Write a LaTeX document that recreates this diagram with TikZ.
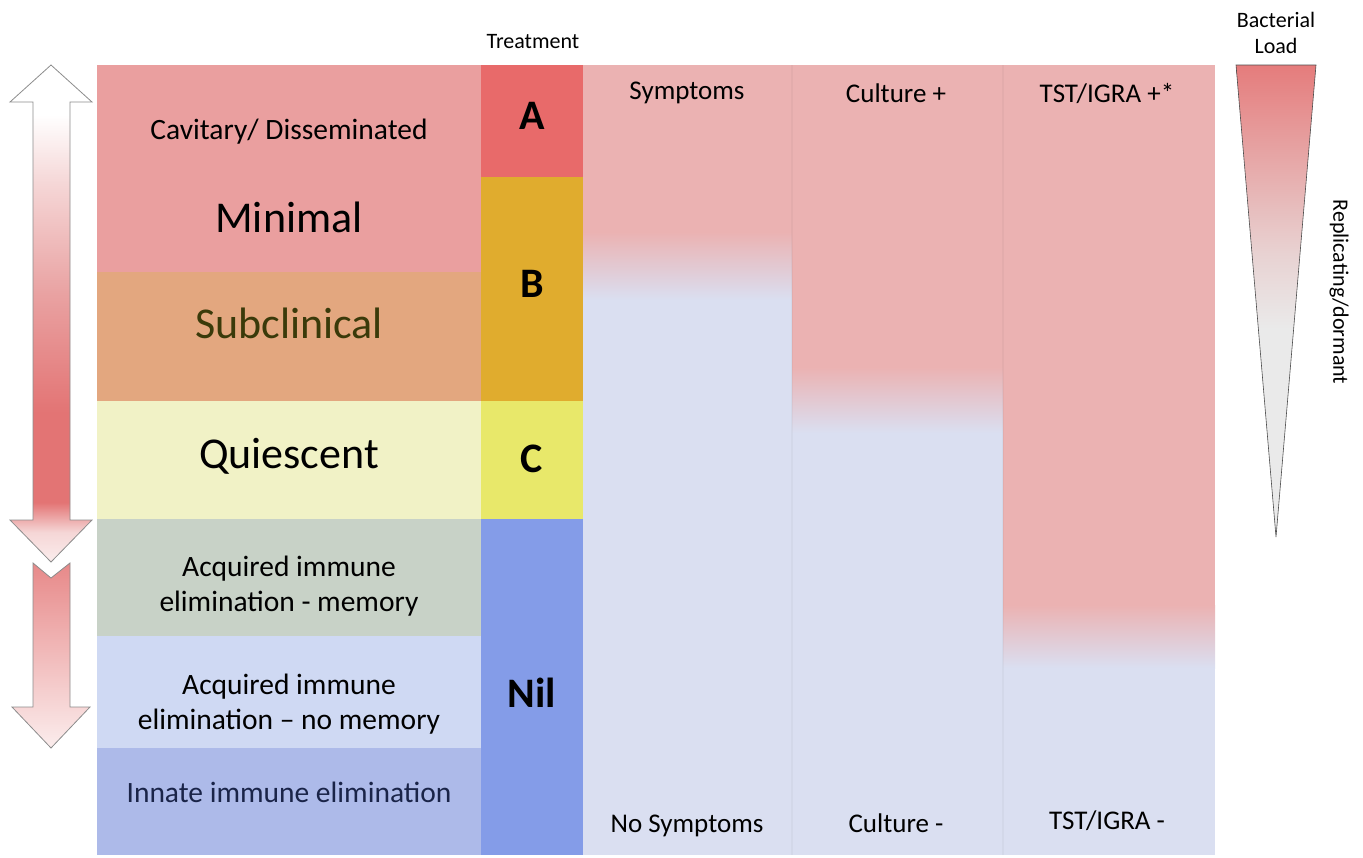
\documentclass[tikz,border=0pt]{standalone}
\usepackage{fontspec}
\setmainfont{Carlito}
\usepackage{tikz}
\usepackage{xcolor}
\usetikzlibrary{calc}

\definecolor{bandpink}{HTML}{EA9F9F}
\definecolor{bandorange}{HTML}{E3A77F}
\definecolor{bandyellow}{HTML}{F1F2C6}
\definecolor{bandgrey}{HTML}{C8D2C7}
\definecolor{bandsky}{HTML}{CFD9F3}
\definecolor{bandblue}{HTML}{ADBAE9}
\definecolor{treatA}{HTML}{E86A6A}
\definecolor{treatB}{HTML}{E0AC2E}
\definecolor{treatC}{HTML}{E8E86A}
\definecolor{treatNil}{HTML}{849CE8}
\definecolor{colpink}{HTML}{EBB2B2}
\definecolor{collav}{HTML}{DADFF1}
\definecolor{olivetext}{HTML}{3A3A0A}
\definecolor{navytext}{HTML}{1A2448}
\definecolor{arrowred}{HTML}{E37474}
\definecolor{arrowmid}{HTML}{E9A2A2}
\definecolor{arrowpale}{HTML}{F5D6D6}
\definecolor{arrowlight}{HTML}{FBEDED}
\definecolor{loadred}{HTML}{E57C7C}
\definecolor{loadmid}{HTML}{E8D2D2}
\definecolor{loadgrey}{HTML}{EAEAEA}

\pgfdeclareverticalshading{bigarrow}{100bp}{color(0bp)=(arrowlight); color(25bp)=(arrowlight);
  color(28bp)=(arrowpale); color(31bp)=(arrowred); color(40bp)=(arrowred);
  color(52bp)=(arrowmid); color(63bp)=(arrowpale); color(70bp)=(white); color(100bp)=(white)}
\pgfdeclareverticalshading{loadwedge}{100bp}{color(0bp)=(loadgrey); color(47bp)=(loadgrey);
  color(55bp)=(loadmid); color(75bp)=(loadred); color(100bp)=(loadred)}

\begin{document}
\begin{tikzpicture}[x=1pt, y=-1pt,
        lbl/.style={inner sep=0pt, anchor=base, font=\fontsize{29.5}{35}\selectfont},
        biglbl/.style={inner sep=0pt, anchor=base, font=\fontsize{44}{48}\selectfont},
        treat/.style={inner sep=0pt, anchor=base, font=\fontsize{42}{46}\selectfont\bfseries},
        coltext/.style={inner sep=0pt, anchor=base, font=\fontsize{27}{32}\selectfont},
        small/.style={inner sep=0pt, font=\fontsize{22}{26}\selectfont},
        arrowline/.style={draw=black!45, line width=0.8pt, line join=miter}
        ]
            \useasboundingbox (0,0) rectangle (1363,857);

            % stages
            \fill[bandpink]   (97,65)  rectangle (481,272);
            \fill[bandorange] (97,272) rectangle (481,401);
            \fill[bandyellow] (97,401) rectangle (481,519);
            \fill[bandgrey]   (97,519) rectangle (481,636);
            \fill[bandsky]    (97,636) rectangle (481,748);
            \fill[bandblue]   (97,748) rectangle (481,855);

            % treatment
            \fill[treatA]   (481,65)  rectangle (583,177);
            \fill[treatB]   (481,177) rectangle (583,401);
            \fill[treatC]   (481,401) rectangle (583,519);
            \fill[treatNil] (481,519) rectangle (583,855);

            % symptoms, culture, TST/IGRA
            \fill[colpink] (583,65) rectangle (792,232);
            \fill[top color=colpink, bottom color=collav] (583,232) rectangle (792,300);
            \fill[collav] (583,300) rectangle (792,855);
            \fill[colpink] (792,65) rectangle (1003,367);
            \fill[top color=colpink, bottom color=collav] (792,367) rectangle (1003,433);
            \fill[collav] (792,433) rectangle (1003,855);
            \fill[colpink] (1003,65) rectangle (1215,605);
            \fill[top color=colpink, bottom color=collav] (1003,605) rectangle (1215,668);
            \fill[collav] (1003,668) rectangle (1215,855);
            \draw[black, opacity=0.03, line width=1.5pt] (792,65) -- (792,855) (1003,65) -- (1003,855);

            \node[lbl] (cav) at (289,139) {Cavitary/ Disseminated};
            \node[biglbl] (minimal) at (289,232) {Minimal};
            \node[biglbl, text=olivetext] (subclin) at (289,338) {Subclinical};
            \node[biglbl] (quiesc) at (289,468) {Quiescent};
            \node[lbl, anchor=center, align=center] (memory) at (289,586) {Acquired immune\\elimination - memory};
            \node[lbl, anchor=center, align=center] (nomemory) at (289,704) {Acquired immune\\elimination -- no memory};
            \node[lbl, text=navytext] (innate) at (289,802) {Innate immune elimination};

            \node[small, anchor=base] (treatment) at (533,48) {Treatment};
            \node[treat] (tA) at (532,129) {A};
            \node[treat] (tB) at (532,297) {B};
            \node[treat] (tC) at (532,472) {C};
            \node[treat] (tNil) at (532,707) {Nil};

            \node[coltext] (symp) at (687,99) {Symptoms};
            \node[coltext] (cult) at (896,102) {Culture +};
            \node[coltext] (tst) at (1107,102) {TST/IGRA +*};
            \node[coltext] (nosymp) at (687,832) {No Symptoms};
            \node[coltext] (nocult) at (896,832) {Culture -};
            \node[coltext] (notst) at (1107,829) {TST/IGRA -};

            % bacterial load
            \node[small, align=center, anchor=base] (load) at (1276,53) {Bacterial\\Load};
            \path[shading=loadwedge, draw=black!70, line width=0.6pt] (1236,65) -- (1316,65) -- (1276,537) -- cycle;
            \node[small, rotate=-90] (repl) at (1339,292) {Replicating/dormant};

            % arrows
            \path[arrowline, shading=bigarrow] (51,65) -- (92,102) -- (70,102) -- (70,520) -- (92,520)
                -- (51,562) -- (10,520) -- (33,520) -- (33,102) -- (10,102) -- cycle;
            \path[arrowline, top color=arrowred!85, bottom color=arrowlight] (33,563) -- (51,578) -- (70,563)
                -- (70,707) -- (90,707) -- (51,748) -- (12,707) -- (33,707) -- cycle;

        \end{tikzpicture}
\end{document}
